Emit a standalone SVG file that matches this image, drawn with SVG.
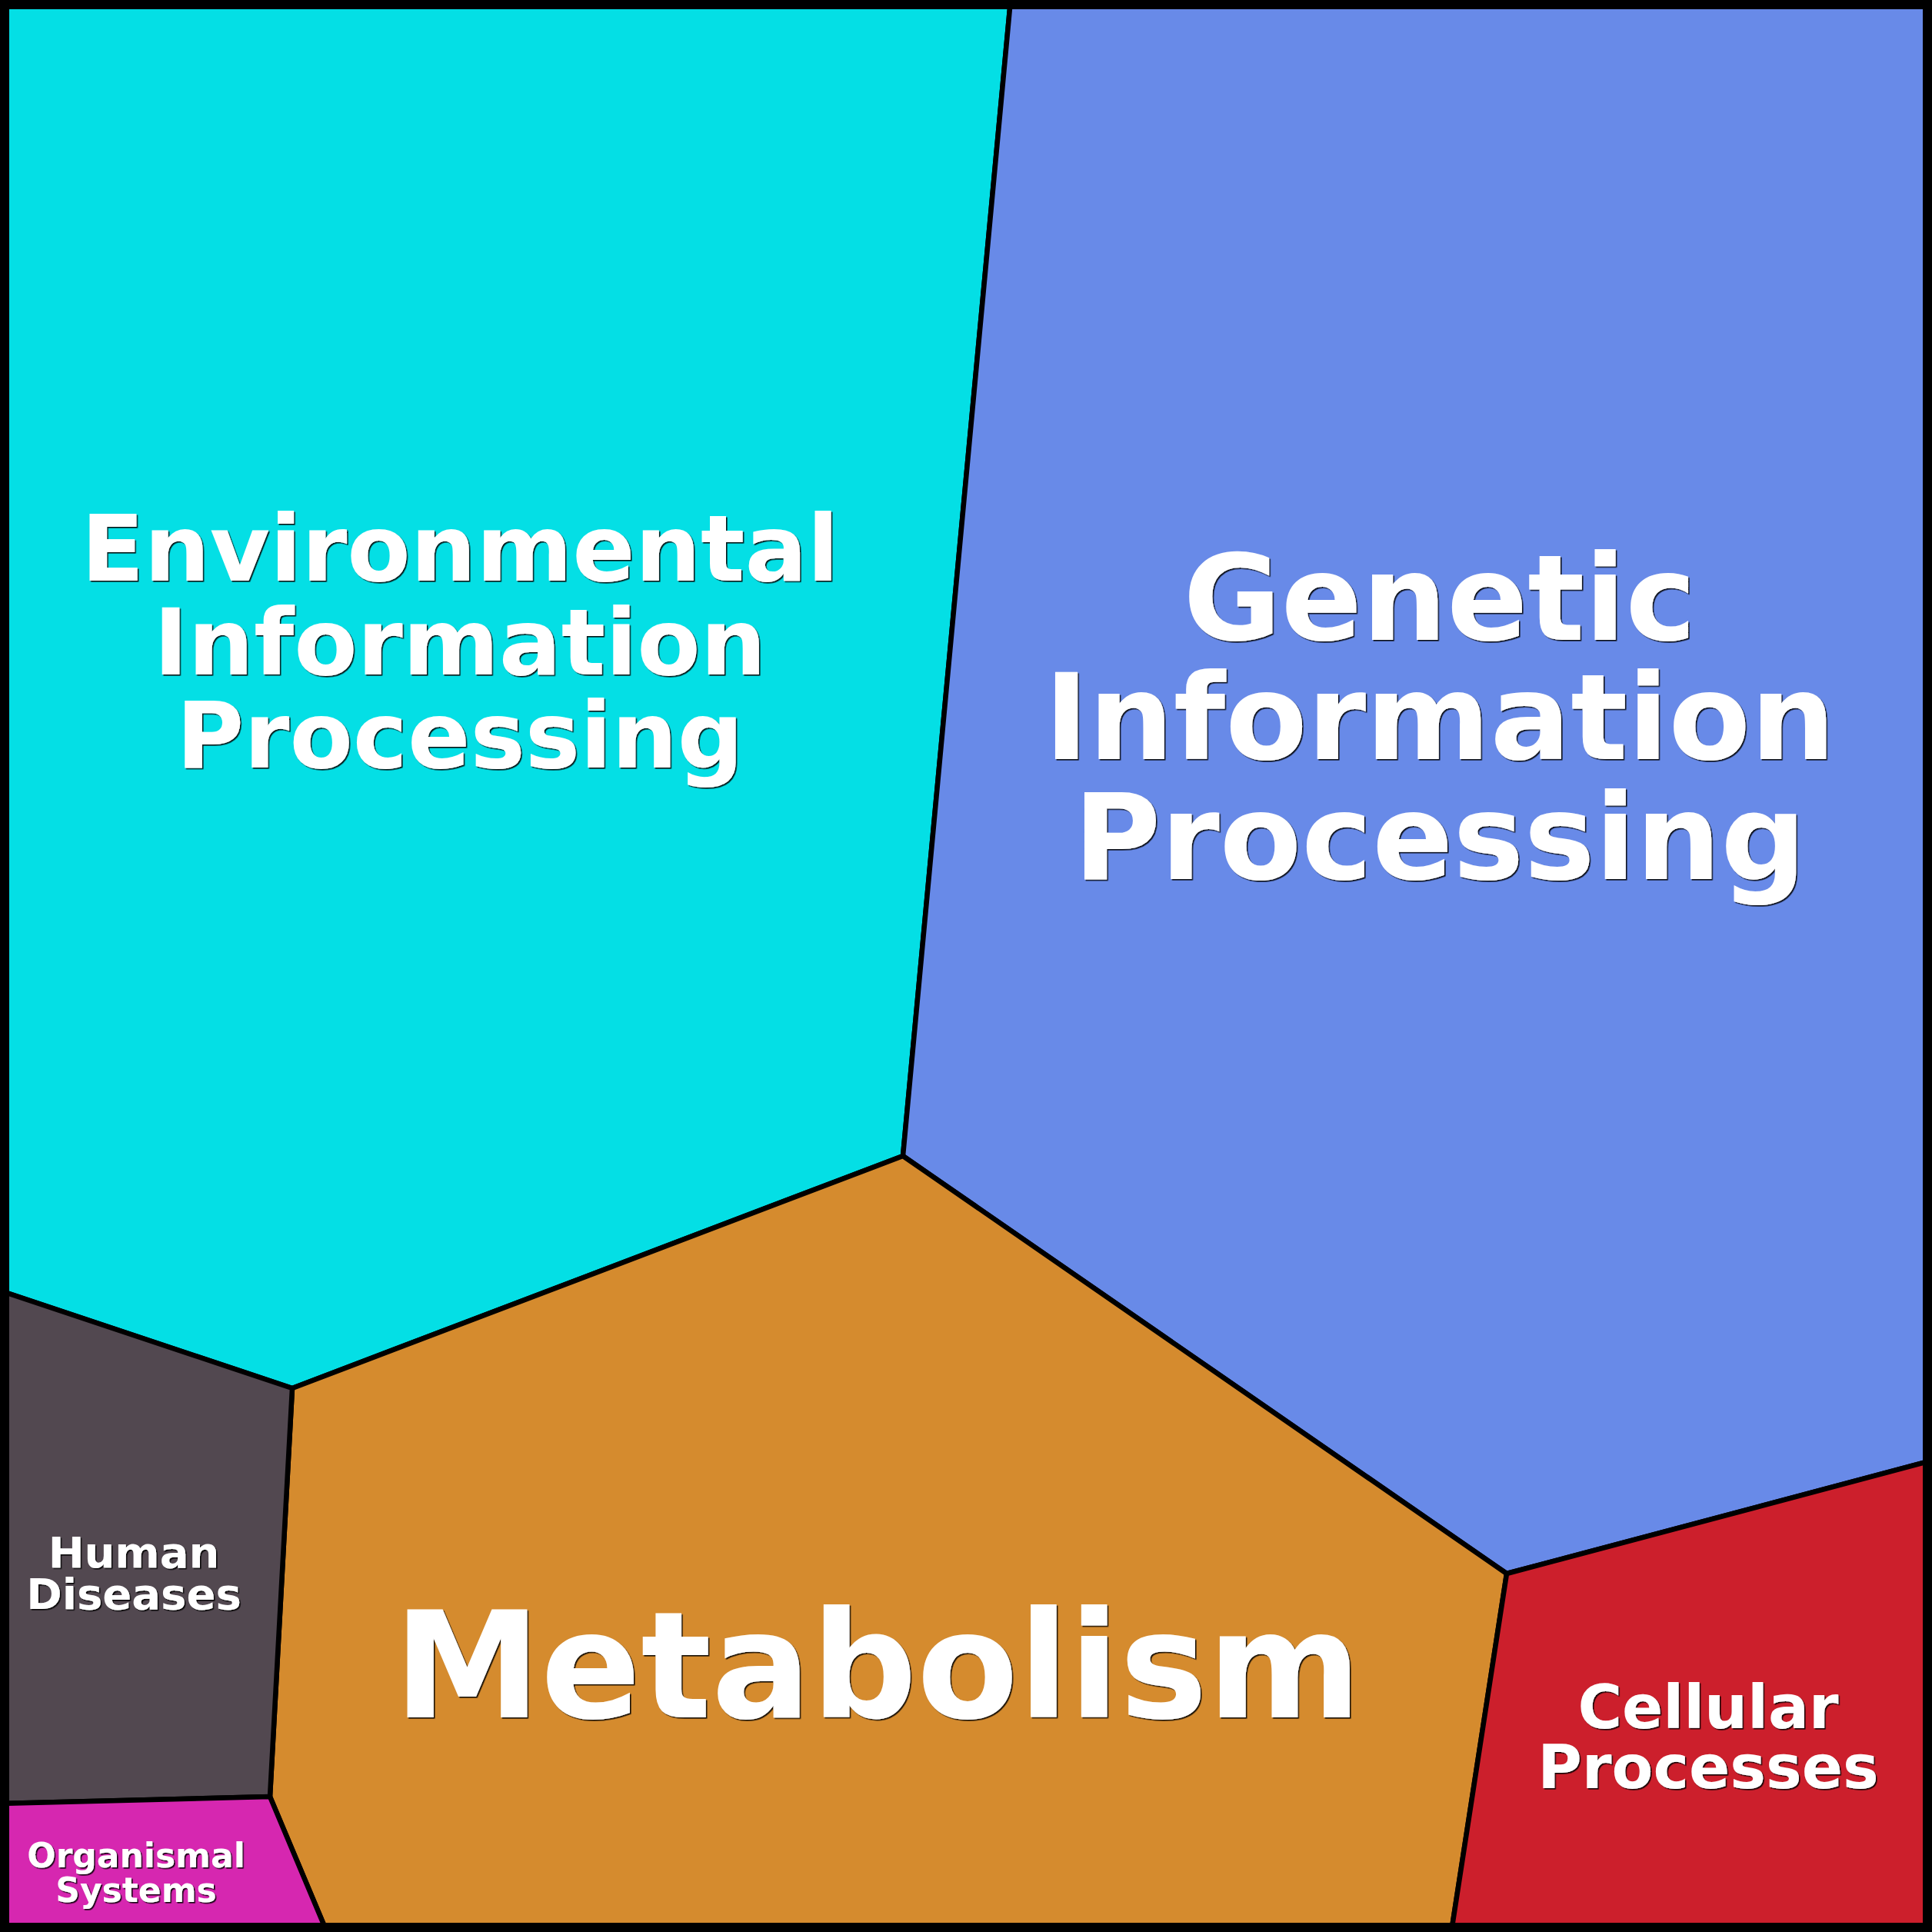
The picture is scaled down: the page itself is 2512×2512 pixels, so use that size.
<svg xmlns="http://www.w3.org/2000/svg" width="2512" height="2512" viewBox="0 0 2512 2512">
<defs>
<filter id="sh" x="-5%" y="-5%" width="110%" height="115%">
<feDropShadow dx="1.6" dy="1.6" stdDeviation="0.6" flood-color="#000" flood-opacity="0.9"/>
</filter>
</defs>
<style>
.cell{stroke:#000;stroke-width:6.5;stroke-linejoin:round}
.lbl{font-family:"DejaVu Sans","Noto Sans",sans-serif;font-weight:bold;fill:#fff;text-anchor:middle;filter:url(#sh)}
</style>
<rect x="0" y="0" width="2512" height="2512" fill="#000"/>
<g id="env">
<polygon class="cell" fill="#04dfe5" points="0,0 1314,0 1174,1503 380,1805 0,1678"/>
<text class="lbl" font-size="120" x="598"><tspan x="598" y="755">Environmental</tspan><tspan x="598" y="877">Information</tspan><tspan x="598" y="998">Processing</tspan></text>
</g>
<g id="genetic">
<polygon class="cell" fill="#688ae8" points="1314,0 2512,0 2512,1899 1959,2046 1174,1503"/>
<text class="lbl" font-size="155" x="1872"><tspan x="1872" y="832">Genetic</tspan><tspan x="1872" y="987">Information</tspan><tspan x="1872" y="1143">Processing</tspan></text>
</g>
<g id="metabolism">
<polygon class="cell" fill="#d58b2e" points="1174,1503 1959,2046 1887,2512 425,2512 351,2336 380,1805"/>
<text class="lbl" font-size="192" x="1141" y="2233">Metabolism</text>
</g>
<g id="human">
<polygon class="cell" fill="#524850" points="0,1678 380,1805 351,2336 0,2345"/>
<text class="lbl" font-size="56" x="174"><tspan x="174" y="2038">Human</tspan><tspan x="174" y="2092">Diseases</tspan></text>
</g>
<g id="cellular">
<polygon class="cell" fill="#cc1f2c" points="1959,2046 2512,1899 2512,2512 1887,2512"/>
<text class="lbl" font-size="78.5" x="2221"><tspan x="2221" y="2247">Cellular</tspan><tspan x="2221" y="2325">Processes</tspan></text>
</g>
<g id="organismal">
<polygon class="cell" fill="#d627b0" points="0,2345 351,2336 425,2512 0,2512"/>
<text class="lbl" font-size="44" x="177"><tspan x="177" y="2428">Organismal</tspan><tspan x="177" y="2473">Systems</tspan></text>
</g>
<rect x="6" y="6" width="2500" height="2500" fill="none" stroke="#000" stroke-width="12"/>
</svg>
